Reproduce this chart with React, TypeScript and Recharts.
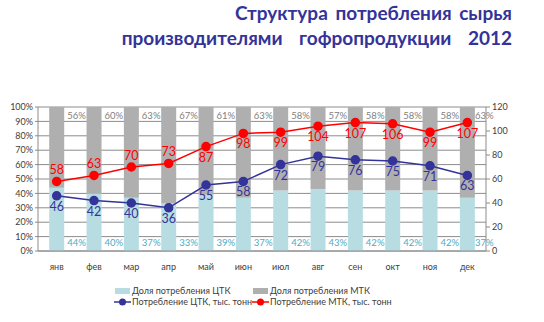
import { ComposedChart, Bar, Line, XAxis, YAxis, CartesianGrid, LabelList } from 'recharts';

const months = ['янв', 'фев', 'мар', 'апр', 'май', 'июн', 'июл', 'авг', 'сен', 'окт', 'ноя', 'дек'];
const shareCtk = [44, 40, 37, 33, 39, 37, 42, 43, 42, 42, 42, 37];
const shareMtk = [56, 60, 63, 67, 61, 63, 58, 57, 58, 58, 58, 63];
const volumeCtk = [46, 42, 40, 36, 55, 58, 72, 79, 76, 75, 71, 63];
const volumeMtk = [58, 63, 70, 73, 87, 98, 99, 104, 107, 106, 99, 107];

const data = months.map((m, i) => ({
  month: m,
  ctk: shareCtk[i],
  mtk: shareMtk[i],
  volCtk: volumeCtk[i],
  volMtk: volumeMtk[i],
}));

const FONT = 'Lato, "Open Sans", sans-serif';
const CYAN = '#b7dde3';
const GRAY = '#afafaf';
const BLUE = '#333399';
const RED = '#ff0000';

// подписи долей справа от столбца (последняя чуть заходит на столбец)
const labelX = (x: number, width: number) => Math.min(x + width + 3, 475);

const ctkLabel = (props: any) => {
  const { x, y, width, height, value } = props;
  return (
    <text x={labelX(x, width)} y={y + height - 5} fontSize={9.5} fill="#4bacc6" fontFamily={FONT}>
      {value}%
    </text>
  );
};

const mtkLabel = (props: any) => {
  const { x, y, width, value } = props;
  return (
    <text x={labelX(x, width)} y={y + 12} fontSize={9.5} fill="#7f7f7f" fontFamily={FONT}>
      {value}%
    </text>
  );
};

const blueLabel = (props: any) => {
  const { x, y, value } = props;
  return (
    <text x={x} y={y + 15} textAnchor="middle" fontSize={12.5} fill={BLUE} fontFamily={FONT}>
      {value}
    </text>
  );
};

const redLabel = (props: any) => {
  const { x, y, value, index } = props;
  const above = index < 4;
  return (
    <text x={x} y={above ? y - 7 : y + 15} textAnchor="middle" fontSize={12.5} fill={RED} fontFamily={FONT}>
      {value}
    </text>
  );
};

function LegendItem({ kind, color, text }: { kind: 'box' | 'line'; color: string; text: string }) {
  return (
    <div style={{ display: 'flex', alignItems: 'center', width: 138, whiteSpace: 'nowrap' }}>
      <svg width={17} height={10} style={{ marginRight: 1, flexShrink: 0 }}>
        {kind === 'box' ? (
          <rect x={1} y={2} width={15} height={6} fill={color} />
        ) : (
          <g>
            <line x1={0} y1={5} x2={17} y2={5} stroke={color} strokeWidth={1.5} />
            <circle cx={8.5} cy={5} r={3.5} fill={color} />
          </g>
        )}
      </svg>
      <span>{text}</span>
    </div>
  );
}

export default function App() {
  return (
    <div style={{ position: 'absolute', left: 0, top: 0, width: 544, height: 322, background: '#fff', fontFamily: FONT }}>
      <div
        style={{
          position: 'absolute',
          right: 32,
          top: 0,
          textAlign: 'right',
          color: BLUE,
          fontWeight: 'bold',
          fontSize: 19,
          lineHeight: '25px',
          wordSpacing: 3,
        }}
      >
        <div>Структура потребления сырья</div>
        <div style={{ wordSpacing: 12 }}>производителями гофропродукции 2012</div>
      </div>
      <ComposedChart
        width={544}
        height={272}
        data={data}
        margin={{ top: 107, right: 28, left: 0, bottom: 0 }}
        barCategoryGap="30%"
      >
        <CartesianGrid vertical={false} stroke="#8c8c8c" yAxisId="left" />
        <XAxis
          dataKey="month"
          height={21}
          tickLine={false}
          axisLine={{ stroke: '#8c8c8c' }}
          tick={{ fontSize: 9, fill: '#404040', fontFamily: FONT }}
          tickMargin={7}
        />
        <YAxis
          yAxisId="left"
          width={38}
          domain={[0, 100]}
          ticks={[0, 10, 20, 30, 40, 50, 60, 70, 80, 90, 100]}
          tickFormatter={(v) => `${v}%`}
          tick={{ fontSize: 9, fill: '#404040', fontFamily: FONT }}
          tickSize={3}
          tickLine={{ stroke: '#8c8c8c' }}
          axisLine={{ stroke: '#8c8c8c' }}
          interval={0}
        />
        <YAxis
          yAxisId="right"
          orientation="right"
          width={30}
          domain={[0, 120]}
          ticks={[0, 20, 40, 60, 80, 100, 120]}
          tick={{ fontSize: 9, fill: '#404040', fontFamily: FONT }}
          tickSize={4}
          tickLine={{ stroke: '#8c8c8c' }}
          axisLine={{ stroke: '#8c8c8c' }}
          interval={0}
        />
        <Bar yAxisId="left" dataKey="ctk" stackId="s" fill={CYAN} isAnimationActive={false}>
          <LabelList dataKey="ctk" content={ctkLabel} />
        </Bar>
        <Bar yAxisId="left" dataKey="mtk" stackId="s" fill={GRAY} isAnimationActive={false}>
          <LabelList dataKey="mtk" content={mtkLabel} />
        </Bar>
        <Line
          yAxisId="right"
          dataKey="volCtk"
          stroke={BLUE}
          strokeWidth={1.5}
          dot={{ r: 4, fill: BLUE, stroke: BLUE }}
          isAnimationActive={false}
        >
          <LabelList dataKey="volCtk" content={blueLabel} />
        </Line>
        <Line
          yAxisId="right"
          dataKey="volMtk"
          stroke={RED}
          strokeWidth={1.5}
          dot={{ r: 4, fill: RED, stroke: RED }}
          isAnimationActive={false}
        >
          <LabelList dataKey="volMtk" content={redLabel} />
        </Line>
      </ComposedChart>
      <div style={{ position: 'absolute', left: 114, top: 285, fontSize: 9, color: '#404040', lineHeight: '11px' }}>
        <div style={{ display: 'flex' }}>
          <LegendItem kind="box" color={CYAN} text="Доля потребления ЦТК" />
          <LegendItem kind="box" color={GRAY} text="Доля потребления МТК" />
        </div>
        <div style={{ display: 'flex' }}>
          <LegendItem kind="line" color={BLUE} text="Потребление ЦТК, тыс. тонн" />
          <LegendItem kind="line" color={RED} text="Потребление МТК, тыс. тонн" />
        </div>
      </div>
    </div>
  );
}
